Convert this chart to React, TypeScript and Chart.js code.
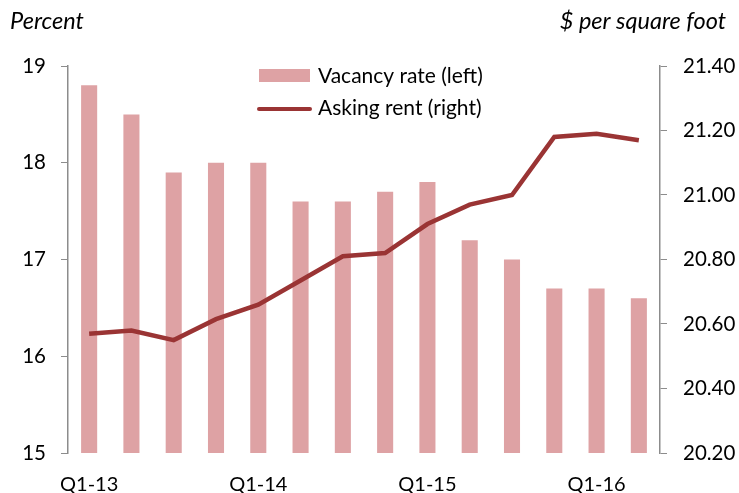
import React, { useEffect, useRef } from "react";
import { Chart, registerables } from "chart.js";

Chart.register(...registerables);

const quarters = [
  "Q1-13", "Q2-13", "Q3-13", "Q4-13",
  "Q1-14", "Q2-14", "Q3-14", "Q4-14",
  "Q1-15", "Q2-15", "Q3-15", "Q4-15",
  "Q1-16", "Q2-16",
];
const vacancyRate = [18.8, 18.5, 17.9, 18.0, 18.0, 17.6, 17.6, 17.7, 17.8, 17.2, 17.0, 16.7, 16.7, 16.6];
const askingRent = [20.57, 20.58, 20.55, 20.615, 20.66, 20.735, 20.81, 20.82, 20.91, 20.97, 21.0, 21.18, 21.19, 21.17];
const leftTicks = [15, 16, 17, 18, 19];
const rightTicks = [20.2, 20.4, 20.6, 20.8, 21.0, 21.2, 21.4];

const BAR_COLOR = "#DEA2A4";
const LINE_COLOR = "#9A3434";
const AXIS_COLOR = "#8C8C8C";
const FONT = "Lato, 'Open Sans', sans-serif";

const legendPlugin = {
  id: "customLegend",
  afterDraw(chart: any) {
    const ctx = chart.ctx;
    ctx.save();
    ctx.font = `21px ${FONT}`;
    ctx.fillStyle = "#000";
    ctx.textBaseline = "middle";
    ctx.textAlign = "left";
    // Vacancy
    ctx.fillStyle = BAR_COLOR;
    ctx.fillRect(259, 69, 51, 13);
    ctx.fillStyle = "#000";
    ctx.fillText(chart.data.datasets[0].label, 318, 76);
    // Rent
    ctx.strokeStyle = LINE_COLOR;
    ctx.lineWidth = 4;
    ctx.lineCap = "round";
    ctx.beginPath();
    ctx.moveTo(259, 109);
    ctx.lineTo(310, 109);
    ctx.stroke();
    ctx.fillText(chart.data.datasets[1].label, 318, 108);
    // axis titles
    ctx.font = `italic 23.5px ${FONT}`;
    ctx.fillText("Percent", 10, 21);
    ctx.textAlign = "right";
    ctx.fillText("$ per square foot", 726, 21);
    ctx.restore();
  },
};

export default function App() {
  const ref = useRef<HTMLCanvasElement>(null);
  useEffect(() => {
    document.body.style.margin = "0";
    const chart = new Chart(ref.current!, {
      data: {
        labels: quarters,
        datasets: [
          {
            type: "bar",
            label: "Vacancy rate (left)",
            data: vacancyRate,
            yAxisID: "y",
            backgroundColor: BAR_COLOR,
            barPercentage: 0.38,
            categoryPercentage: 1,
            order: 1,
          } as any,
          {
            type: "line",
            label: "Asking rent (right)",
            data: askingRent,
            yAxisID: "y1",
            borderColor: LINE_COLOR,
            borderWidth: 4.5,
            pointRadius: 0,
            tension: 0,
            order: 0,
          } as any,
        ],
      },
      options: {
        animation: false,
        responsive: false,
        layout: { padding: { top: 66, left: 0, right: 0, bottom: 0 } },
        plugins: { legend: { display: false }, tooltip: { enabled: false } },
        scales: {
          x: {
            grid: { display: false, drawTicks: false },
            border: { display: false },
            ticks: {
              autoSkip: false,
              maxRotation: 0,
              padding: 20,
              color: "#000",
              font: { family: FONT, size: 20 },
              callback: (_v: any, i: number) => (i % 4 === 0 ? quarters[i] : ""),
            },
            afterFit: (s: any) => { s.height = 40; },
          },
          y: {
            position: "left",
            min: 15,
            max: 19,
            afterBuildTicks: (s: any) => { s.ticks = leftTicks.map((v) => ({ value: v })); },
            grid: { drawOnChartArea: false, drawTicks: true, tickLength: 7, color: AXIS_COLOR },
            border: { display: true, color: AXIS_COLOR, width: 1.5 },
            ticks: { color: "#000", padding: 15, font: { family: FONT, size: 20.5 } },
            afterFit: (s: any) => { s.width = 68; },
          },
          y1: {
            position: "right",
            min: 20.2,
            max: 21.4,
            afterBuildTicks: (s: any) => { s.ticks = rightTicks.map((v) => ({ value: v })); },
            grid: { drawOnChartArea: false, drawTicks: true, tickLength: 7, color: AXIS_COLOR },
            border: { display: true, color: AXIS_COLOR, width: 1.5 },
            ticks: {
              color: "#000",
              padding: 16,
              font: { family: FONT, size: 20.5 },
              callback: (v: any) => Number(v).toFixed(2),
            },
            afterFit: (s: any) => { s.width = 79; },
          },
        },
      },
      plugins: [legendPlugin],
    });
    return () => chart.destroy();
  }, []);
  return (
    <div style={{ width: 739, height: 493 }}>
      <canvas ref={ref} width={739} height={493} />
    </div>
  );
}
